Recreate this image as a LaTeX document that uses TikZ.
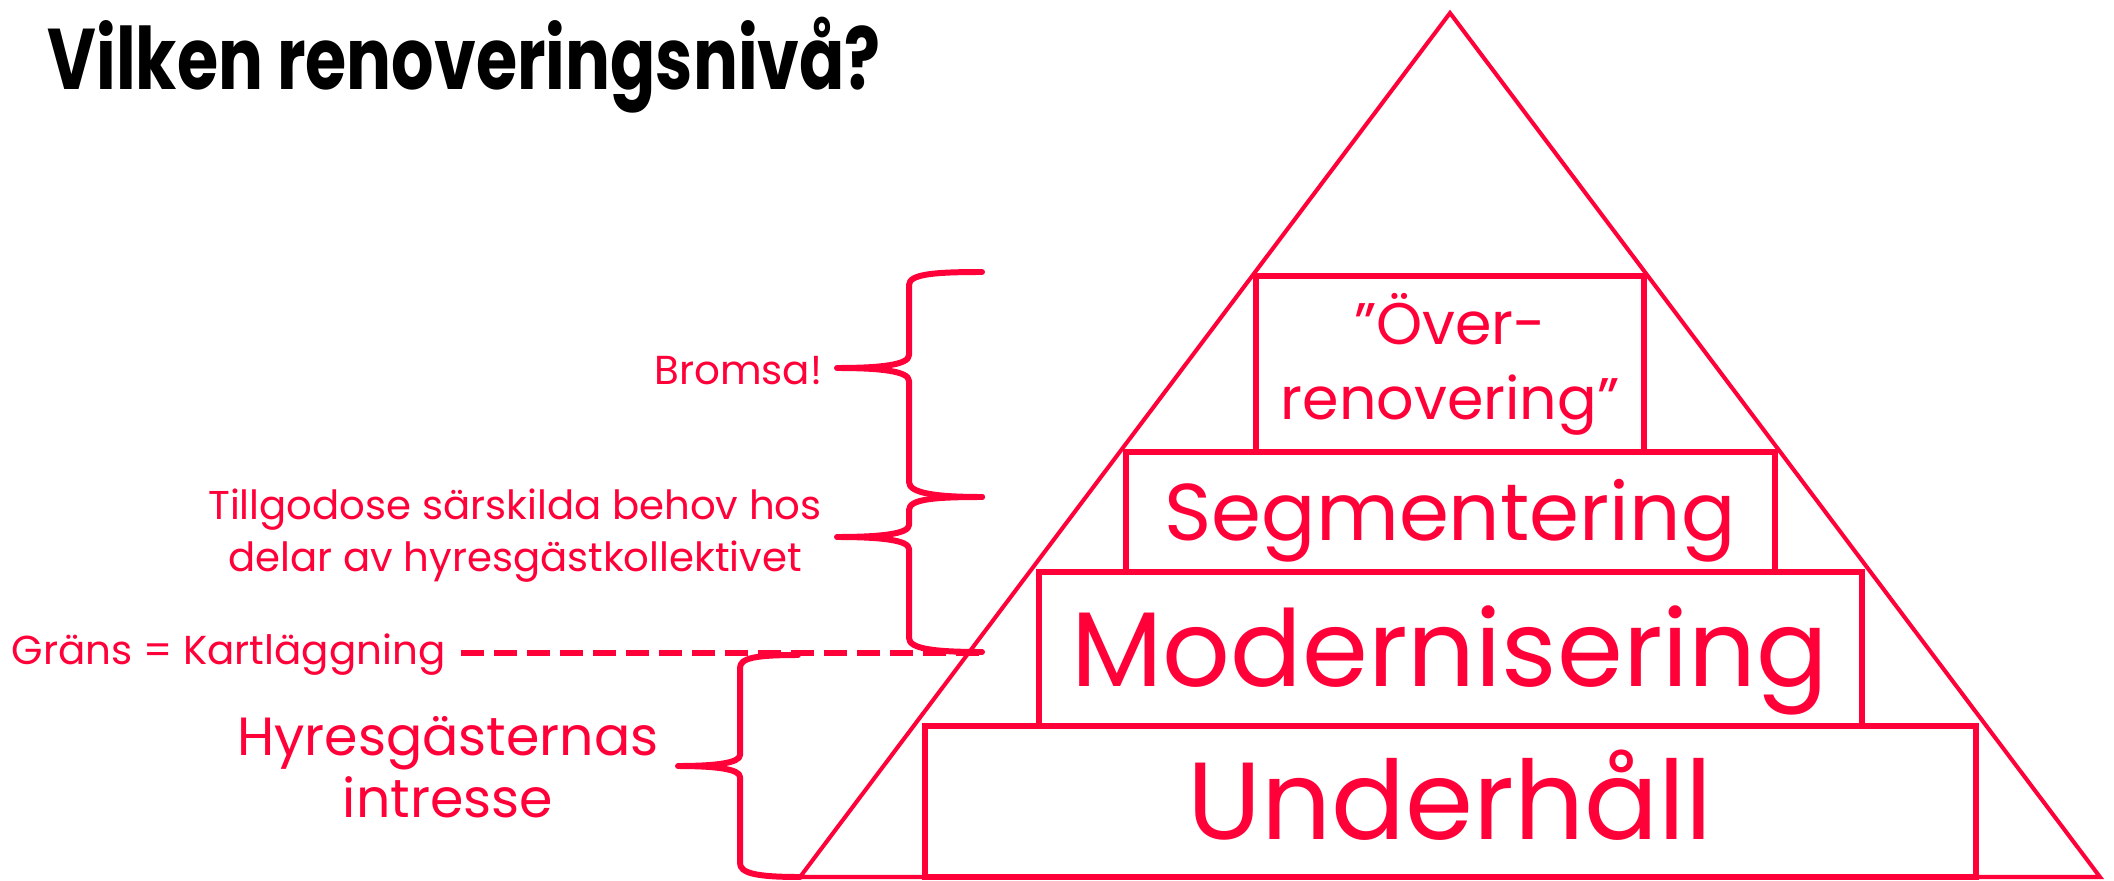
\documentclass[tikz,border=0pt]{standalone}
\usepackage{fontspec}
\setmainfont{Poppins}
\usepackage{xcolor}
\definecolor{pyred}{RGB}{255,0,56}
\usetikzlibrary{positioning,calc}

\begin{document}
\begin{tikzpicture}[
  level/.style={draw=pyred, line width=1.7pt, inner sep=0pt, outer sep=0pt, text=pyred},
  side/.style={text=pyred, inner sep=0pt, align=center},
  sbrace/.style={draw=pyred, line width=1.7pt, line join=round, line cap=round},
]
\useasboundingbox (0,0) rectangle (21.14,-8.81);

% Title
\node[anchor=base west, inner sep=0pt, font=\fontsize{24.5}{29}\selectfont\bfseries] (title) at (0.47,-0.90) {\scalebox{0.775}[1]{Vilken renoveringsnivå?}};

% Pyramid
\draw[pyred, line width=1.15pt] (14.50,-0.13) -- (8.00,-8.77) -- (21.00,-8.77) -- cycle;

% Levels
\node[level, minimum width=10.51cm, minimum height=1.51cm, text height=21.5pt, text depth=0pt, font=\fontsize{31.2}{36}\selectfont] (underhall) at (14.50,-8.015) {Underhåll};
\node[level, minimum width=8.23cm, minimum height=1.54cm, text height=21.2pt, text depth=0pt, font=\fontsize{30.2}{36}\selectfont] (modern) at (14.50,-6.49) {Modernisering};
\node[level, minimum width=6.49cm, minimum height=1.20cm, text height=16.1pt, text depth=0pt, font=\fontsize{22.9}{28}\selectfont] (segment) at (14.50,-5.12) {Segmentering};
\node[level, minimum width=3.88cm, minimum height=1.76cm, align=center, font=\fontsize{16.7}{21.3}\selectfont] (over) at (14.50,-3.64) {”Över-\\renovering”};

% Side notes
\node[side, anchor=base east, font=\fontsize{11.5}{14.8}\selectfont] (bromsa) at (8.23,-3.85) {Bromsa!};
\node[side, font=\fontsize{11.45}{14.8}\selectfont] (behov) at (5.15,-5.36) {Tillgodose särskilda behov hos\\delar av hyresgästkollektivet};
\node[side, anchor=base west, font=\fontsize{11.5}{14.8}\selectfont] (grans) at (0.11,-6.64) {Gräns = Kartläggning};
\node[side, font=\fontsize{15.3}{17.6}\selectfont] (intresse) at (4.48,-7.67) {Hyresgästernas\\intresse};

% Braces
\draw[sbrace] (9.82,-2.72) .. controls (9.35,-2.72) and (9.09,-2.74) .. (9.09,-2.85) -- (9.09,-3.55)
  .. controls (9.09,-3.65) and (8.80,-3.68) .. (8.37,-3.68)
  .. controls (8.80,-3.68) and (9.09,-3.71) .. (9.09,-3.81) -- (9.09,-4.82)
  .. controls (9.09,-4.93) and (9.35,-4.97) .. (9.82,-4.97);
\draw[sbrace] (9.82,-4.97) .. controls (9.35,-4.97) and (9.09,-4.99) .. (9.09,-5.10) -- (9.09,-5.25)
  .. controls (9.09,-5.34) and (8.80,-5.37) .. (8.37,-5.37)
  .. controls (8.80,-5.37) and (9.09,-5.40) .. (9.09,-5.49) -- (9.09,-6.38)
  .. controls (9.09,-6.49) and (9.35,-6.52) .. (9.82,-6.52);
\draw[sbrace] (7.98,-6.55) .. controls (7.55,-6.55) and (7.40,-6.58) .. (7.40,-6.68) -- (7.40,-7.55)
  .. controls (7.40,-7.63) and (7.15,-7.66) .. (6.78,-7.66)
  .. controls (7.15,-7.66) and (7.40,-7.69) .. (7.40,-7.77) -- (7.40,-8.63)
  .. controls (7.40,-8.73) and (7.55,-8.77) .. (8.00,-8.77);

% Border line
\coordinate (kend) at (9.82,-6.53);
\draw[pyred, line width=1.9pt, dash pattern=on 0.23cm off 0.10cm] ($(grans.east |- kend)+(0.15,0)$) -- (kend);
\end{tikzpicture}
\end{document}
